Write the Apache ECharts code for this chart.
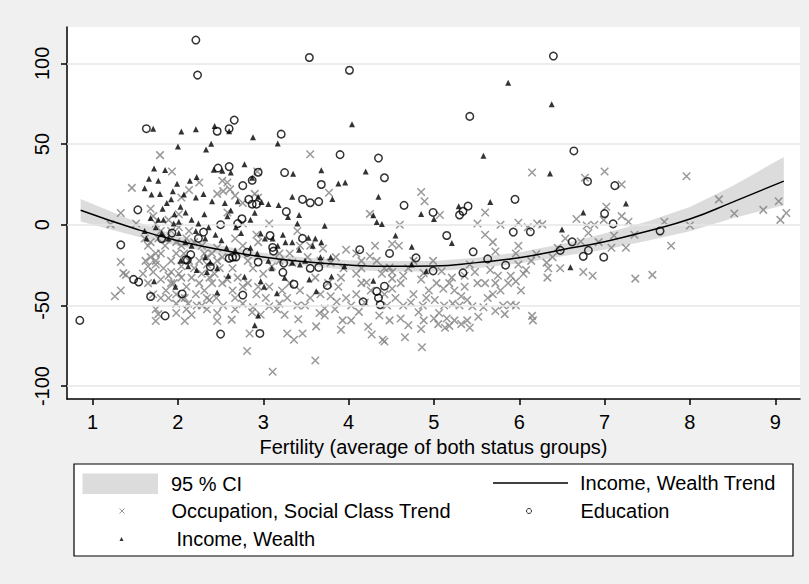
<!DOCTYPE html>
<html>
<head>
<meta charset="utf-8">
<script src="https://cdn.jsdelivr.net/npm/echarts@6/dist/echarts.min.js"></script>
<style>html,body{margin:0;padding:0;background:#f0f0f0;}#c{width:809px;height:584px;}</style>
</head>
<body>
<div id="c"></div>
<script>
const xTicks = [1, 2, 3, 4, 5, 6, 7, 8, 9];
const yTicks = [-100, -50, 0, 50, 100];

const trendX = [0.86, 1.5, 2.0, 2.5, 3.0, 3.5, 4.0, 4.5, 5.0, 5.5, 6.0, 6.5, 7.0, 7.5, 8.0, 8.5, 9.1];
const trendY = [9, -2.5, -10, -15.5, -20, -23, -25, -25.8, -25.6, -23.5, -20.5, -15.5, -10.5, -4, 3.5, 14, 27];
const ciHigh = [16, 2, -7, -13, -17.5, -20.5, -22, -22.5, -22.5, -20.5, -17, -12, -5.5, 2, 11, 24, 42];
const ciLow  = [2, -7, -13, -18.5, -22.5, -25.5, -28, -29, -29, -27, -24, -19.5, -15.5, -10, -4, 4, 12];

const occPoints = [
[1.21,0.2],[1.33,7.2],[1.46,22.8],[1.51,0.7],[1.33,-23.1],[1.36,-30],[1.39,-31.1],[1.33,-40.8],[1.26,-44.3],[1.61,-8.5],[1.65,-13.1],[1.68,-20.1],[1.74,-24.7],[1.79,43.1],[1.93,33],[1.74,-59.7],[1.77,-55.4],[2.08,-59.7],
[3.55,43.6],[3.77,19.8],[4.85,20.3],[4.89,14.5],[5.07,6],[4.60,0],[4.25,6.7],[4.25,-19.6],[4.31,-13.1],[4.51,-12],[4.59,-13.1],[4.48,-26.5],[4.39,-30.4],[4.51,-33.4],[4.61,-36.2],[4.21,-35.8],[4.26,-40.8],[4.15,-36.2],[4.09,-43.1],[4.19,-48.2],[4.12,-54],[4.03,-59.3],[3.93,-59.3],[3.91,-65.1],[3.84,-52.4],[3.86,-47.8],[3.79,-44.3],[3.72,-51.9],[3.66,-54.7],[3.72,-56.3],[3.62,-63],[3.61,-84.2],[3.46,-67.4],[3.36,-71.3],[3.28,-67.4],[3.25,-55.8],[3.41,-58.6],[3.40,-50.1],[3.16,-52.4],[3.07,-50.5],[2.97,-55.8],[2.87,-54.2],[2.84,-67.4],[2.81,-78.2],[3.11,-91.1],[2.67,-52.4],[2.63,-58.8],[2.46,-59.7],[2.53,-50.1],[2.45,-45.4],[2.34,-52.4],[2.34,-45.4],[2.22,-50.1],[2.12,-48.9],[1.98,-48.9],[2.08,-45.4],[1.89,-45.4],
[4.23,-63.2],[4.27,-68],[4.40,-71.3],[4.42,-72.4],[4.66,-69.7],[4.61,-58.1],[4.70,-62.3],[4.85,-64.6],[4.88,-59.3],[4.82,-54.2],[4.87,-50.1],[4.91,-45.4],[4.94,-40.8],[5.03,-36.2],[5.11,-39.7],[5.18,-36.2],[5.24,-40.8],[5.32,-44.3],[5.39,-46.6],[5.45,-50.5],[5.22,-48.9],[5.12,-50.1],[5.06,-54.7],[5.00,-58.1],[5.15,-58.1],[5.24,-59.3],[5.18,-62.7],[5.32,-61.6],[5.42,-63.9],[4.86,-75.9],[5.01,-46.6],[4.76,-43.1],[4.73,-48.2],[4.64,-50.1],[4.55,-45.4],[4.45,-50.1],[4.88,-30],[4.99,-22.4],[5.09,-28.8],[5.21,-32.8],[5.36,-31.6],[5.48,-29.3],[5.60,-36.2],[5.69,-43.1],[5.72,-36.2],[5.78,-40.8],[5.87,-36.2],[5.81,-50.1],[5.90,-49.6],[5.96,-50.1],[5.83,-55.4],[5.58,-51.2],[5.52,-57],[6.15,-56.5],[6.16,-59.3],[5.96,-35.1],[6.05,-30.4],[5.99,-24.7],[6.08,-28.1],[6.14,-22.4],[6.20,-18.2],[6.32,-23.5],[6.34,-27],[6.39,-20.1],[6.45,-14.3],[6.54,-8.5],[6.21,0.7],[6.27,0.2],[6.10,-1.6],[5.99,1.2],[5.78,0],[5.60,7.6],[5.51,0.7],[5.69,-10.8],[5.60,-6.2],[5.72,-16.6],[5.99,-13.1],[5.96,-17.8],
[6.15,32.3],[6.77,29.1],[7.00,33],[7.20,24.9],[7.02,11.1],[6.67,3.5],[6.79,-0.5],[6.88,0],[6.99,3],[6.81,-5.1],[6.72,-10.4],[6.93,-10.8],[7.08,-14.3],[7.25,-14.3],[7.11,-6.7],[7.20,5.3],[7.35,-6.2],[7.28,1.8],[7.36,-33.4],[7.56,-31.1],[7.78,-13.1],[7.70,1.8],[8.00,-0.5],[7.96,30],[8.34,15.7],[8.52,6.9],[8.86,9.2],[9.04,14.5],[9.06,3],[9.13,7.2],[6.75,-29.3],[6.86,-31.6],[6.48,-27],[6.33,-32.8],
[2.52,27.2],[2.61,21.9],[2.90,19.1],[2.94,16.8],[2.93,33],[2.53,20.8],[3.07,0.7],[2.92,-6.2],[3.40,-3.9],[3.55,-13.1],[3.70,-14.8],[3.79,-23.5],[3.97,-15.5],[4.09,-17.8],[4.15,-27],[3.91,-32.8],[3.61,-32.8],[3.43,-40.8],[3.31,-36.2],[3.22,-40.8],[3.07,-38.5],[2.92,-43.1],[2.76,-38.5],[2.70,-32.8],[2.64,-27],[2.40,-36.2],[2.46,-22.4],[2.34,-20.1],[3.34,-23.5],[3.19,-22.4],
[1.68,9.9],[1.71,5.3],[1.74,0.7],[1.80,-3.9],[1.86,-8.5],[1.85,-13.1],[1.80,-17.8],[1.74,-22.4],[1.83,-27],[1.89,-31.6],[1.95,-36.2],[1.86,-40.8],[1.98,-43.1],[2.01,-30.4],[2.04,-25.8],[1.92,-22.4],[1.98,-17.8],[2.04,-13.1],[1.98,-10.8],[2.10,-8.5],[2.07,-17.8],[2.13,-22.4],[2.19,-27],[2.16,-32.8],[2.25,-36.2],[2.21,-43.1],[2.31,-40.8],[2.37,-32.8],[2.28,-30.4],[2.34,-24.7],[2.25,-22.4],[2.31,-17.8],[2.40,-17.8],[2.46,-14.3],[2.52,-20.1],[2.49,-27],[2.43,-30.4],[2.58,-33.9],[2.52,-36.2],[2.37,-46.6],[2.28,-50.1],[2.10,-52.4],[2.04,-45.4],[1.92,-36.2],[1.80,-33.9],[1.71,-29.3],[1.65,-25.8],[1.74,-17.8],[1.68,-10.8],[1.77,-8.5],[1.92,-3.9],[2.01,-1.6],[2.13,-3.9],[2.19,-10.8],[2.28,-13.1],[2.01,6.5],[1.89,3],[2.04,16.8],[2.13,21.5],[2.25,26.1],[2.58,26.1],[2.46,19.1],[2.67,18],[2.76,13.4],[2.58,7.6],[2.76,0.7],[2.67,-8.5],[2.76,-13.1],[2.82,-22.4],[2.88,-27],[3.00,-30.4],[3.10,-25.8],[2.94,-10.8],[3.19,-17.8],[3.31,-17.8],[2.04,-32.8],[2.10,-38.5],[1.92,-29.3],[1.62,-22.4],[1.59,-30.4],[1.65,-36.2],[1.71,-43.1],[1.80,-45.4],[1.74,-52.4],[1.98,-54.7],[2.16,-55.8],[2.46,-54.7],[2.67,-45.4],[2.64,-40.8],[2.76,-48.9],[2.88,-51.2],[3.03,-45.4],[2.82,-36.2],[2.94,-38.5],[3.19,-48.9],[3.28,-45.4],[3.49,-50.1],[3.55,-45.4],[3.67,-43.1],[3.76,-36.2],[3.88,-38.5],[3.97,-45.4],[4.03,-50.1],[3.94,-27],[3.85,-20.1],[3.67,-22.4],[3.52,-20.1],[3.43,-13.1],
[4.15,-22.4],[4.33,-22.4],[4.42,-27],[4.51,-29.3],[4.64,-31.6],[4.70,-27],[4.76,-22.4],[4.85,-33.9],[4.51,-39.7],[4.42,-43.1],[4.36,-56.3],[4.48,-59.3],[4.09,-30.4],[5.66,-28.1],[5.75,-31.6],[5.63,-45.4],[5.72,-53.5],[6.02,-40.8],[5.90,-31.6],[5.51,-36.2],[5.42,-24.7],[5.36,-38.5],[5.30,-50.1],[5.39,-59.3],[5.13,-63.9],[5.05,-61.6]
];

const eduPoints = [
[2.21,114.4],[2.23,92.7],[3.54,103.6],[4.01,95.7],[6.40,104.5],[5.42,67.1],[6.64,45.7],[1.63,59.5],[2.46,57.9],[2.60,59.5],[2.66,64.8],[3.21,56.1],[3.90,43.4],[4.35,41.3],[4.42,29.1],[2.47,35.1],[2.60,36],[2.76,24.2],[2.87,27.5],[2.94,32.5],[3.25,32.3],[3.68,24.9],[2.83,15.7],[2.87,12.7],[2.92,12.7],[3.46,15.7],[3.55,13.6],[3.65,14.3],[3.27,8.1],[4.65,12],[4.99,7.6],[5.30,6],[5.34,8.3],[5.40,11.5],[5.95,15.7],[6.80,26.8],[7.12,24.2],[7.00,6.9],[7.10,0.5],[7.65,-3.9],[5.93,-4.6],[6.13,-4.4],[5.15,-6.7],[4.13,-15.5],[4.48,-17.8],[5.46,-16.8],[5.63,-21.2],[5.84,-25.1],[6.48,-15.9],[6.62,-10.6],[6.81,-15.9],[6.75,-19.6],[6.99,-20.1],[1.53,9.2],[1.33,-12.5],[1.48,-33.9],[1.54,-35.5],[1.68,-44.5],[1.85,-56.5],[2.05,-42.9],[0.85,-59.3],[2.11,-21.9],[2.15,-18.5],[2.24,-8.5],[2.50,0],[2.50,-67.8],[2.60,-20.8],[2.64,-20.1],[2.75,3.7],[2.81,-17.1],[2.70,0.7],[2.94,-23.1],[2.96,-67.4],[2.76,-43.6],[3.08,-6.7],[3.11,-14.1],[3.23,-29.5],[3.24,-23.8],[3.36,-36.9],[3.46,-8.5],[3.55,-27],[3.65,-26.5],[3.75,-37.6],[4.17,-47.8],[4.33,-41.3],[4.35,-45.4],[4.37,-49.6],[4.42,-38.1],[4.79,-20.5],[4.99,-28.6],[5.34,-29.8],[1.81,-8.7],[1.93,-5.2],[2.09,-21.7],[2.30,-4.6],[2.38,-26],[2.68,-20],[3.12,-16.4]
];

const incPoints = [
[1.71,59.5],[2.04,57.7],[2.21,59.1],[2.43,61.1],[2.60,57.9],[2.00,48.4],[2.33,46.6],[2.39,50.1],[2.88,54.2],[3.17,50.3],[4.04,62.3],[5.87,87.9],[6.38,74.7],[5.58,42.7],[6.36,31.8],[7.25,13.1],[6.75,7.6],[6.50,-3],[6.60,-26.3],[5.66,14.1],[5.29,11.5],[5.21,-11.3],[5.00,3.5],[4.85,6.7],[4.29,-34.8],[4.29,5.8],[4.33,1.6],[4.39,0.5],[4.35,17.3],[4.20,33],[4.55,-6.7],[4.74,-13.6],[4.74,-24.7],[4.91,-28.8],[3.96,26.1],[3.88,25.6],[3.81,15.9],[3.68,33.7],[3.72,-0.7],[3.35,31.6],[3.18,12.2],[3.42,6],[3.34,17.3],[3.61,-8.5],[3.53,-8.1],[3.26,-10.8],[3.17,-13.1],[2.94,17.3],[2.98,14.1],[2.90,7.4],[3.06,12.9],[2.78,37.4],[2.87,29.1],[2.62,32.3],[2.52,33.4],[2.42,34.1],[2.22,29.5],[2.14,27.2],[1.99,25.4],[1.77,27.2],[1.66,28.4],[1.72,34.8],[1.85,33.9],[1.61,22.6],[1.69,18.7],[1.79,19.1],[1.94,20.8],[2.07,18.7],[2.21,16.8],[2.30,19.1],[2.40,14.5],[2.55,13.4],[2.70,14.5],[2.62,8.8],[2.85,3],[2.97,-5.5],[3.29,4.8],[3.23,-6.2],[3.40,0.7],[3.06,-22.4],[3.10,-27],[2.97,-35.1],[3.01,-38.5],[3.16,-42.4],[3.25,-32.8],[3.34,-23.5],[3.43,-24.7],[3.54,-33.9],[3.62,-41.3],[3.80,-32.1],[3.95,-25.8],[3.79,-20.1],[2.94,-56.3],[2.90,-62.3],[2.78,-32.3],[2.59,-31.6],[2.46,-42],[2.34,-29.3],[2.22,-28.1],[2.12,-25.8],[2.03,-22.4],[1.97,-38.5],[1.72,-35.1],[1.63,-8.5],[1.61,-3.9],[1.68,4.2],[1.77,3],[1.82,9.9],[1.87,13.4],[1.92,15.7],[1.96,6.5],[2.03,11.1],[2.09,7.6],[2.16,3],[2.24,0.7],[2.31,6.5],[2.36,-1.6],[2.44,-6.2],[2.51,-9.7],[2.57,-14.3],[2.67,-15.9],[2.68,-1.6],[2.74,-5.1],[2.85,-14.3],[2.93,-17.8],[2.46,-27],[2.38,-23.5],[2.32,-20.1],[2.16,-13.1],[2.09,-10.8],[1.89,-8.5],[1.81,-5.1],[1.74,-1.6],[1.83,3],[1.95,0.7],[2.01,-5.1],[2.01,1.8],[2.21,-3.9],[2.32,-8.5],[2.58,5.3],[3.02,-8.5],[3.11,-8.5],[3.34,-10.8],[3.42,-15.5],[3.49,-22.4],[3.67,-20.1],[3.58,-13.1],[3.68,-10.8]
];

const FONT = 'Liberation Sans, Arial, sans-serif';
const FS = 20;
const XMARK = 'path://M0,0L10,10M10,0L0,10';

const chart = echarts.init(document.getElementById('c'), null, {renderer: 'svg'});

const bandSeries = {
  name: '95 % CI',
  type: 'custom',
  z: 1,
  silent: true,
  data: [[trendX[0], ciHigh[0]]],
  renderItem: function (params, api) {
    const pts = [];
    for (let i = 0; i < trendX.length; i++) pts.push(api.coord([trendX[i], ciHigh[i]]));
    for (let i = trendX.length - 1; i >= 0; i--) pts.push(api.coord([trendX[i], ciLow[i]]));
    return {type: 'polygon', shape: {points: pts}, style: {fill: '#dcdcdc'}};
  }
};

const option = {
  backgroundColor: '#f0f0f0',
  animation: false,
  grid: {left: 67, right: 9, top: 27, bottom: 185, show: true, backgroundColor: '#ffffff', borderWidth: 0},
  xAxis: {
    type: 'value', min: 0.7, max: 9.29,
    name: 'Fertility (average of both status groups)',
    nameLocation: 'middle', nameGap: 33,
    nameTextStyle: {color: '#000', fontSize: FS, fontFamily: FONT},
    axisLine: {show: true, onZero: false, lineStyle: {color: '#000', width: 1.5}},
    axisTick: {show: true, length: 6, customValues: xTicks, lineStyle: {color: '#000', width: 1.5}},
    axisLabel: {customValues: xTicks, margin: 13, color: '#000', fontSize: FS, fontFamily: FONT},
    splitLine: {show: false}
  },
  yAxis: {
    type: 'value', min: -108, max: 122.5,
    axisLine: {show: true, onZero: false, lineStyle: {color: '#000', width: 1.5}},
    axisTick: {show: true, length: 6, customValues: yTicks, lineStyle: {color: '#000', width: 1.5}},
    axisLabel: {customValues: yTicks, rotate: 90, margin: 15, color: '#000', fontSize: FS, fontFamily: FONT},
    splitLine: {show: false}
  },
  legend: [
    {left: 82.5, top: 473.6, padding: 0, itemWidth: 75.5, itemHeight: 20.5, selectedMode: false,
     textStyle: {color: '#000', fontSize: FS, fontFamily: FONT, padding: [0, 0, 0, 8]},
     data: [{name: '95 % CI', icon: 'rect', itemStyle: {color: '#dcdcdc', borderWidth: 0}}]},
    {left: 493, top: 473, padding: 0, itemWidth: 75, itemHeight: 1.6, selectedMode: false,
     textStyle: {color: '#000', fontSize: FS, fontFamily: FONT, padding: [0, 0, 0, 7]},
     data: [{name: 'Income, Wealth Trend', icon: 'rect', itemStyle: {color: '#000', borderWidth: 0}}]},
    {left: 119, top: 501, padding: 0, itemWidth: 5, itemHeight: 5, selectedMode: false,
     textStyle: {color: '#000', fontSize: FS, fontFamily: FONT, padding: [0, 0, 0, 42]},
     data: [{name: 'Occupation, Social Class Trend', icon: XMARK, itemStyle: {color: 'rgba(0,0,0,0)', borderColor: '#808080', borderWidth: 1}}]},
    {left: 526, top: 501, padding: 0, itemWidth: 5, itemHeight: 5, selectedMode: false,
     textStyle: {color: '#000', fontSize: FS, fontFamily: FONT, padding: [0, 0, 0, 44]},
     data: [{name: 'Education', icon: 'circle', itemStyle: {color: 'rgba(0,0,0,0)', borderColor: '#000', borderWidth: 1}}]},
    {left: 119.5, top: 529, padding: 0, itemWidth: 4, itemHeight: 4, selectedMode: false,
     textStyle: {color: '#000', fontSize: FS, fontFamily: FONT, padding: [0, 0, 0, 48]},
     data: [{name: 'Income, Wealth', icon: 'triangle', itemStyle: {color: '#000', borderWidth: 0}}]}
  ],
  graphic: [
    {type: 'rect', z: -1, shape: {x: 74, y: 464, width: 719, height: 92},
     style: {fill: '#ffffff', stroke: '#000', lineWidth: 1.2}}
  ],
  series: [
    {
      name: 'gridlines', type: 'line', data: [], z: 0, silent: true,
      markLine: {silent: true, symbol: ['none', 'none'], label: {show: false},
        lineStyle: {color: '#e6e6e6', width: 1.5, type: 'solid'},
        data: yTicks.map(v => ({yAxis: v}))}
    },
    bandSeries,
    {
      name: 'Occupation, Social Class Trend', type: 'scatter', z: 3,
      symbol: XMARK, symbolSize: 7.5,
      itemStyle: {color: 'rgba(0,0,0,0)', borderColor: '#7f7f7f', borderWidth: 1.5},
      data: occPoints
    },
    {
      name: 'Education', type: 'scatter', z: 4,
      symbol: 'circle', symbolSize: 7.5,
      itemStyle: {color: 'rgba(0,0,0,0)', borderColor: '#000', borderWidth: 1.5},
      data: eduPoints
    },
    {
      name: 'Income, Wealth', type: 'scatter', z: 5,
      symbol: 'triangle', symbolSize: 6,
      itemStyle: {color: '#000'},
      data: incPoints
    },
    {
      name: 'Income, Wealth Trend', type: 'line', z: 6,
      symbol: 'none', smooth: true,
      lineStyle: {color: '#000', width: 1.5},
      itemStyle: {color: '#000'},
      data: trendX.map((x, i) => [x, trendY[i]])
    }
  ]
};
chart.setOption(option);
</script>
</body>
</html>
